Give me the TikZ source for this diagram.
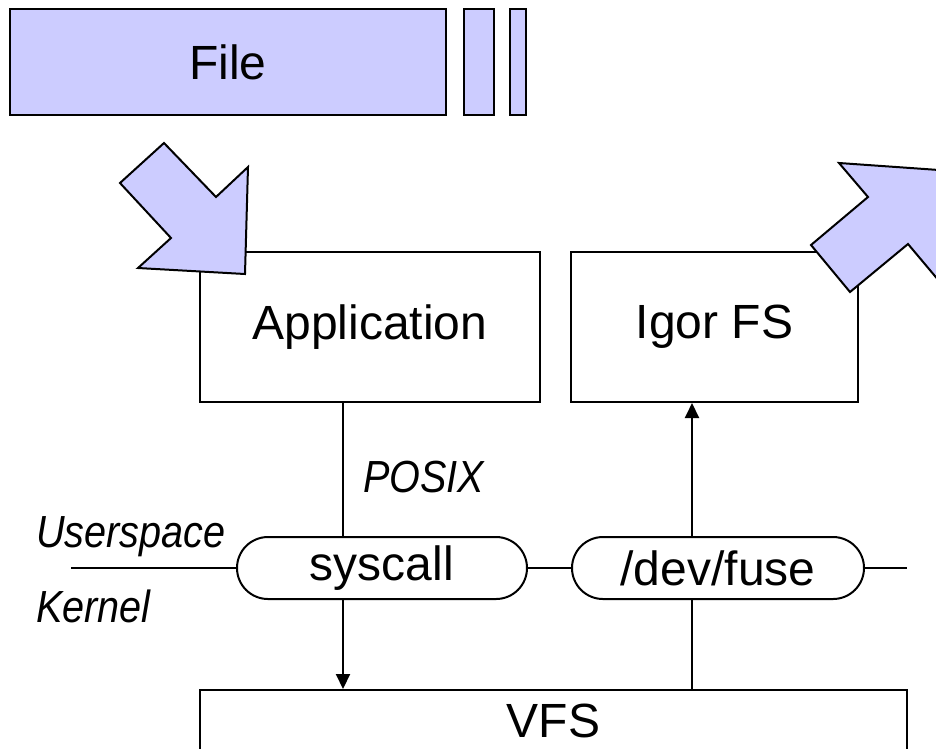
\documentclass[tikz,border=0pt]{standalone}
\usepackage{fontspec}
\setmainfont{Liberation Sans}
\usetikzlibrary{arrows.meta}
\definecolor{lav}{HTML}{CCCCFF}
\begin{document}
\begin{tikzpicture}[x=1pt,y=-1pt,
  line width=2pt,
  box/.style={draw=black, line width=2pt, inner sep=0pt,
              font=\fontsize{48}{56}\selectfont},
  pill/.style={box, rounded corners=31pt},
  lbl/.style={inner sep=0pt, font=\fontsize{45}{54}\selectfont\itshape},
  blk/.style={fill=lav, draw=black, line width=2pt, line join=miter},
  tip/.style={-{Triangle[length=15pt,width=14pt]}},
]
\useasboundingbox (0,0) rectangle (936,748);
\clip (0,0) rectangle (936,748);

% file bar with two trailing slices
\node[box, fill=lav, minimum width=436, minimum height=106] (file) at (228,62) {File};
\node[box, fill=lav, minimum width=30, minimum height=106] (s1) at (479,62) {};
\node[box, fill=lav, minimum width=16, minimum height=106] (s2) at (518,62) {};

% userspace boxes
\node[box, minimum width=340, minimum height=150] (app) at (370,327) {Application};
\node[box, minimum width=287, minimum height=150] (igor) at (714.5,327) {Igor FS};

% boundary pills
\node[pill, minimum width=290, minimum height=62] (sys) at (382,568) {syscall};
\node[pill, minimum width=292, minimum height=62] (fuse) at (718,568) {/dev/fuse};

% kernel VFS box (runs off the bottom edge)
\node[box, anchor=north, minimum width=707, minimum height=62] (vfs) at (553.5,689) {VFS};

% labels
\node[lbl, anchor=base west] (us) at (35,547) {\scalebox{0.88}[1]{Userspace}};
\node[lbl, anchor=base west] (kn) at (35,622) {\scalebox{0.88}[1]{Kernel}};
\node[lbl, anchor=base west] (px) at (362,492) {\scalebox{0.88}[1]{POSIX}};

% connectors
\coordinate (xa) at (343,0);
\coordinate (xb) at (692,0);
\coordinate (hl) at (71,568);
\coordinate (hr) at (907,568);
\draw (app.south -| xa) -- (sys.north -| xa);
\draw[tip] (sys.south -| xa) -- (vfs.north -| xa);
\draw (vfs.north -| xb) -- (fuse.south -| xb);
\draw[tip] (fuse.north -| xb) -- (igor.south -| xb);
\draw (hl) -- (sys.west);
\draw (sys.east) -- (fuse.west);
\draw (fuse.east) -- (hr);

% block arrows: file in, file out
\draw[blk] (164,143) -- (120,183) -- (171,238) -- (138,268) -- (245,274)
           -- (248,167) -- (216,197) -- cycle;
\draw[blk] (839,163) -- (868,197) -- (811,245) -- (850,292) -- (908,244)
           -- (945,288) -- (946,170.5) -- cycle;
\end{tikzpicture}
\end{document}
